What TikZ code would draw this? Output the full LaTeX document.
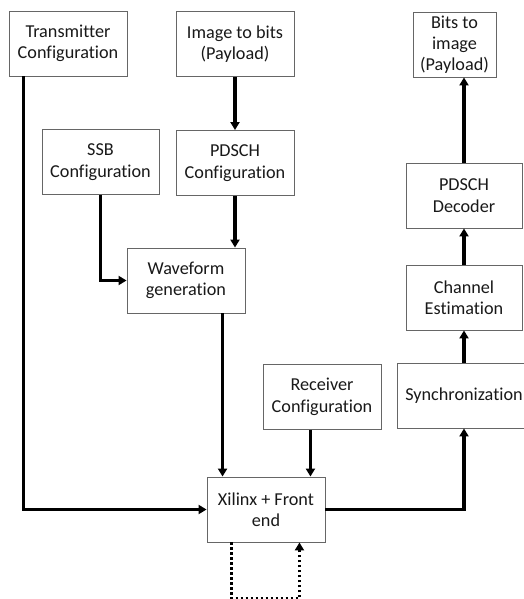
\documentclass[tikz,border=0pt]{standalone}
\usepackage{fontspec}
\setmainfont[Ligatures=NoCommon]{Carlito}
\usetikzlibrary{arrows.meta,calc}
\begin{document}
\begin{tikzpicture}[x=1pt,y=-1pt,
  blk/.style={draw=black!60,line width=0.9pt,fill=white,rectangle,inner sep=0pt,
    align=center,text=black!90,font=\fontsize{18.2}{21.5}\selectfont,
    minimum width=118pt,minimum height=65pt},
  link/.style={line width=3.1pt,black},
  arr/.style={link,-{Triangle[length=8pt,width=9pt]}},
  loopline/.style={line width=3.1pt,black,dash pattern=on 2.8pt off 2.2pt,
    -{Triangle[length=8pt,width=9pt]}}]
\useasboundingbox (0,0) rectangle (523,599);
\fill[white] (0,0) rectangle (523,599);

% transmit side
\node[blk] (tx)   at (68,43.5)   {Transmitter\\Configuration};
\node[blk] (img)  at (235,44)    {Image to bits\\(Payload)};
\node[blk,minimum width=117pt] (ssb) at (100.5,162) {SSB\\Configuration};
\node[blk] (pcfg) at (235,163)   {PDSCH\\Configuration};
\node[blk] (wave) at (186,280.5) {Waveform\\generation};

% hardware and receive side
\node[blk] (rx)   at (322,397)   {Receiver\\Configuration};
\node[blk] (xil)  at (266,509.5) {Xilinx + Front\\end};
\node[blk,minimum width=134pt] (sync) at (464,395.5) {Synchronization};
\node[blk,minimum width=116pt] (chan) at (464,297.5) {Channel\\Estimation};
\node[blk,minimum width=116pt] (dec)  at (464,195.5) {PDSCH\\Decoder};
\node[blk,minimum width=83pt,font=\fontsize{18.2}{21}\selectfont] (bits) at (454.5,44.5) {Bits to\\image\\(Payload)};

% entry points on the front end
\coordinate (txout) at ($(tx.south west)+(15,0)$);
\coordinate (xin1)  at ($(xil.north west)+(16,0)$);
\coordinate (xin2)  at ($(xil.north east)+(-15,0)$);
\coordinate (lpout) at ($(xil.south west)+(25,0)$);
\coordinate (lpin)  at ($(xil.south east)+(-26,0)$);
\coordinate (lpbot) at ($(lpout)+(0,56)$);

% connectors
\draw[arr] (img) -- (pcfg);
\draw[arr] (pcfg) -- (pcfg |- wave.north);
\draw[arr] (ssb.south) |- (wave.west);
\draw[arr] (wave.south -| xin1) -- (xin1);
\draw[arr] (txout) |- (xil.west);
\draw[arr] (rx.south -| xin2) -- (xin2);
\draw[arr] (xil.east) -| (sync.south);
\draw[arr] (sync.north) -- (chan.south);
\draw[arr] (chan.north) -- (dec.south);
\draw[arr] (dec.north -| 464,0) -- (bits.south -| 464,0);

% loop-back below the front end
\draw[loopline] (lpout) -- (lpbot) -| (lpin);
\end{tikzpicture}
\end{document}
